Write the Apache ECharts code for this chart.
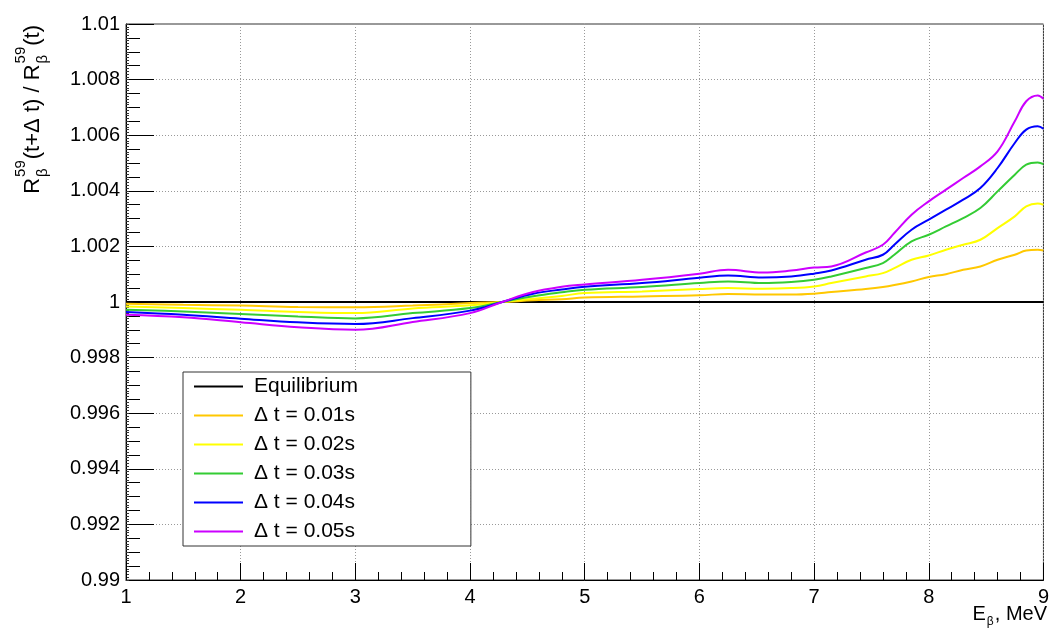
<!DOCTYPE html>
<html>
<head>
<meta charset="utf-8">
<script src="https://cdn.jsdelivr.net/npm/echarts@6/dist/echarts.min.js"></script>
<style>
  html, body { margin: 0; padding: 0; background: #fff; }
  #chart { width: 1052px; height: 628px; }
</style>
</head>
<body>
<div id="chart"></div>
<script>
// Beta-energy grid (MeV)
const energy = [1.0, 1.5, 2.0, 2.5, 3.0, 3.5, 4.0, 4.28, 4.55, 4.8, 5.0, 5.5, 6.0, 6.25, 6.55, 6.8,
                7.0, 7.15, 7.45, 7.6, 7.7, 7.85, 8.0, 8.15, 8.3, 8.45, 8.6, 8.75, 8.85, 8.95, 9.0];

// Spectrum ratio R(t+Δt)/R(t) for each time step
const equilibrium = [1.0, 1.0];
const equilibriumE = [1.0, 9.0];
const dt001 = [0.99994, 0.9999, 0.99987, 0.99982, 0.99981, 0.99987, 0.99996, 1.0, 1.00006, 1.0001,
               1.00016, 1.0002, 1.00024, 1.00029, 1.00027, 1.00027, 1.0003, 1.00036, 1.00047, 1.00054,
               1.00061, 1.00074, 1.0009, 1.001, 1.00116, 1.00128, 1.00152, 1.0017, 1.00185, 1.00188, 1.00185];
const dt002 = [0.99984, 0.99978, 0.99972, 0.99964, 0.9996, 0.99977, 0.99988, 1.0, 1.00012, 1.00022,
               1.00032, 1.00038, 1.00047, 1.0005, 1.00048, 1.0005, 1.00056, 1.00068, 1.00092, 1.00104,
               1.00122, 1.00152, 1.00167, 1.00188, 1.00206, 1.00224, 1.00266, 1.00308, 1.00344, 1.00354, 1.0035];
const dt003 = [0.99972, 0.99966, 0.99957, 0.99948, 0.99941, 0.9996, 0.99978, 1.0, 1.00021, 1.00035,
               1.00044, 1.00054, 1.00068, 1.00074, 1.00068, 1.00072, 1.0008, 1.00092, 1.00122, 1.0014,
               1.0017, 1.00218, 1.00242, 1.00272, 1.00302, 1.00338, 1.00398, 1.00458, 1.00494, 1.00502, 1.00496];
const dt004 = [0.99964, 0.99954, 0.9994, 0.99927, 0.99921, 0.99942, 0.99969, 1.0, 1.0003, 1.00045,
               1.00055, 1.00068, 1.00087, 1.00095, 1.00088, 1.00092, 1.00102, 1.00113, 1.00152, 1.0017,
               1.00206, 1.0026, 1.00296, 1.00332, 1.00368, 1.0041, 1.00482, 1.00572, 1.0062, 1.00632, 1.00623];
const dt005 = [0.99954, 0.99945, 0.99927, 0.99909, 0.999, 0.99928, 0.9996, 1.0, 1.00036, 1.00055,
               1.00063, 1.0008, 1.00102, 1.00116, 1.00106, 1.00113, 1.00124, 1.00128, 1.00178, 1.00206,
               1.00248, 1.00314, 1.00362, 1.00404, 1.00446, 1.00488, 1.00542, 1.0065, 1.00722, 1.00743, 1.00731];

const seriesNames = ['Equilibrium', 'Δ t = 0.01s', 'Δ t = 0.02s', 'Δ t = 0.03s', 'Δ t = 0.04s', 'Δ t = 0.05s'];
const seriesColors = ['#000000', '#ffc800', '#ffff00', '#33cc33', '#0000ff', '#cc00ff'];

const xTicks = [1, 2, 3, 4, 5, 6, 7, 8, 9];
const yTickLabels = ['0.99', '0.992', '0.994', '0.996', '0.998', '1', '1.002', '1.004', '1.006', '1.008', '1.01'];

const FONT = '"Liberation Sans", Arial, Helvetica, sans-serif';

function pairs(xs, ys) { return xs.map((x, i) => [x, ys[i]]); }

const chart = echarts.init(document.getElementById('chart'), null, { renderer: 'canvas' });

// Text measurement for composing labels with sub/superscripts
const measureCtx = document.createElement('canvas').getContext('2d');
function textWidth(t, size) {
  measureCtx.font = size + 'px ' + FONT;
  return measureCtx.measureText(t).width;
}
function textPiece(text, size, x, y) {
  return { type: 'text', x: x, y: y,
    style: { text: text, font: size + 'px ' + FONT, fill: '#000', textAlign: 'left', textVerticalAlign: 'middle' } };
}

// Rotated y-axis title: R^59_β(t+Δ t) / R^59_β(t)
const mainSize = 22, smallSize = 15;
const titleParts = [
  { main: 'R' }, { sup: '59', sub: 'β' },
  { main: '(t+Δ t) / R' }, { sup: '59', sub: 'β' },
  { main: '(t)' }
];
const titleChildren = [];
let cursor = 0;
titleParts.forEach(p => {
  if (p.main) {
    titleChildren.push(textPiece(p.main, mainSize, cursor, 0));
    cursor += textWidth(p.main, mainSize);
  } else {
    titleChildren.push(textPiece(p.sup, smallSize, cursor + 1, -12));
    titleChildren.push(textPiece(p.sub, smallSize, cursor + 1, 10));
    cursor += Math.max(textWidth(p.sup, smallSize), textWidth(p.sub, smallSize)) + 2;
  }
});
const titleLength = cursor;

// x-axis title: E_β, MeV (right-aligned to the frame)
const xTitleChildren = [];
let xc = 0;
xTitleChildren.push(textPiece('E', 20, xc, 0)); xc += textWidth('E', 20);
xTitleChildren.push(textPiece('β', 12, xc + 1, 8)); xc += textWidth('β', 12) + 2;
xTitleChildren.push(textPiece(', MeV', 20, xc, 0)); xc += textWidth(', MeV', 20);
const xTitleLength = xc;

const lineSeries = [
  { e: equilibriumE, v: equilibrium },
  { e: energy, v: dt001 },
  { e: energy, v: dt002 },
  { e: energy, v: dt003 },
  { e: energy, v: dt004 },
  { e: energy, v: dt005 }
].map((s, i) => ({
  name: seriesNames[i],
  type: 'line',
  data: pairs(s.e, s.v),
  symbol: 'none',
  smooth: 0.4,
  lineStyle: { color: seriesColors[i], width: 2 },
  itemStyle: { color: seriesColors[i] },
  z: 2 + i
}));

const option = {
  backgroundColor: '#ffffff',
  animation: false,
  grid: { left: 126, right: 5, top: 24, bottom: 48, show: true, borderColor: '#333', borderWidth: 1, backgroundColor: 'transparent' },
  xAxis: {
    type: 'value', min: 1, max: 9, interval: 1,
    axisLine: { show: true, onZero: false, lineStyle: { color: '#000', width: 1 } },
    axisTick: { show: true, inside: true, length: 17, lineStyle: { color: '#000' } },
    minorTick: { show: true, splitNumber: 5, length: 8, lineStyle: { color: '#000' } },
    splitLine: { show: true, lineStyle: { color: '#999', type: [1, 2], width: 1 } },
    axisLabel: { fontSize: 20, fontFamily: FONT, color: '#000', margin: 7,
      formatter: v => (xTicks.indexOf(Math.round(v)) >= 0 ? String(Math.round(v)) : '') }
  },
  yAxis: [{
    type: 'value', min: 0.99, max: 1.01, interval: 0.002,
    axisLine: { show: true, onZero: false, lineStyle: { color: '#000', width: 1 } },
    axisTick: { show: true, inside: true, length: 28, lineStyle: { color: '#000' } },
    minorTick: { show: true, splitNumber: 4, length: 14, lineStyle: { color: '#000' } },
    splitLine: { show: true, lineStyle: { color: '#999', type: [1, 2], width: 1 } },
    axisLabel: { fontSize: 20, fontFamily: FONT, color: '#000', margin: 6,
      formatter: v => yTickLabels[Math.round((v - 0.99) / 0.002)] }
  }, {
    type: 'value', min: 0.99, max: 1.01, interval: 0.0005, position: 'left',
    axisLine: { show: false },
    axisTick: { show: true, inside: true, length: 3, lineStyle: { color: '#333' } },
    minorTick: { show: true, splitNumber: 5, length: 3, lineStyle: { color: '#333' } },
    splitLine: { show: false },
    axisLabel: { show: false }
  }],
  legend: {
    orient: 'vertical', left: 183, top: 372,
    data: seriesNames,
    icon: 'rect',
    itemWidth: 49, itemHeight: 2, itemGap: 8,
    padding: [4, 113, 4, 11],
    backgroundColor: '#ffffff', borderColor: '#333', borderWidth: 1,
    textStyle: { fontSize: 21, fontFamily: FONT, color: '#000', lineHeight: 21, padding: [0, 0, 0, 6] }
  },
  graphic: [
    {
      type: 'group', x: 33, y: 25 + titleLength, rotation: Math.PI / 2,
      children: titleChildren
    },
    {
      type: 'group', x: 1047 - xTitleLength, y: 614,
      children: xTitleChildren
    }
  ],
  series: lineSeries
};

chart.setOption(option);
</script>
</body>
</html>
